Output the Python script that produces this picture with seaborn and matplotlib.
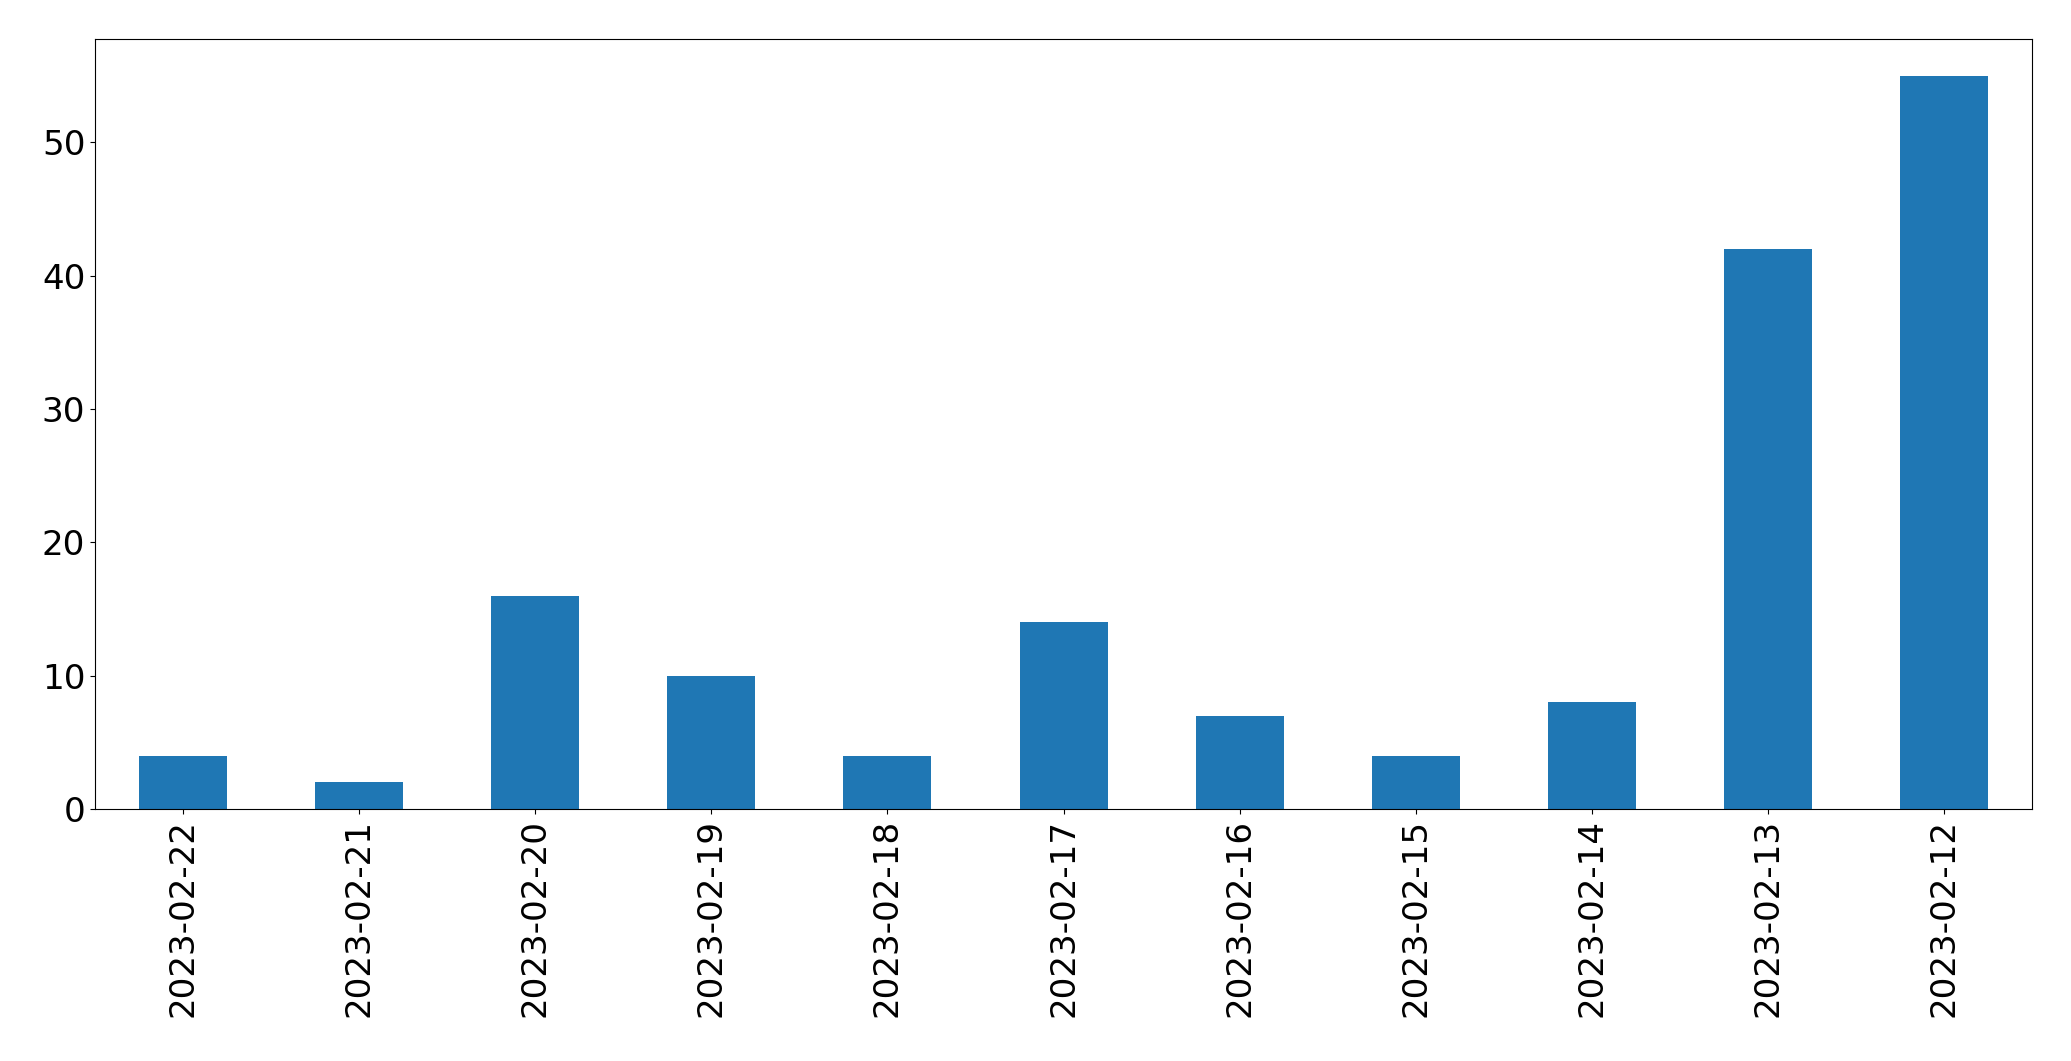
import seaborn as sns
import matplotlib.pyplot as plt

# daily counts, newest first (as in the source index order)
dates = ['2023-02-22', '2023-02-21', '2023-02-20', '2023-02-19', '2023-02-18',
         '2023-02-17', '2023-02-16', '2023-02-15', '2023-02-14', '2023-02-13',
         '2023-02-12']
counts = [4, 2, 16, 10, 4, 14, 7, 4, 8, 42, 55]

fig = plt.figure(figsize=(20.71, 10.61), dpi=100)
ax = fig.add_axes([0.0459, 0.2375, 0.9353, 0.7257])

sns.barplot(x=dates, y=counts, color='#1f77b4', saturation=1, width=0.5, ax=ax)

ax.set_xlim(-0.5, len(dates) - 0.5)
ax.set_ylim(0, max(counts) * 1.05)
ax.tick_params(axis='both', labelsize=24.6)
plt.xticks(rotation=90)

fig.savefig('out.png', dpi=100)
